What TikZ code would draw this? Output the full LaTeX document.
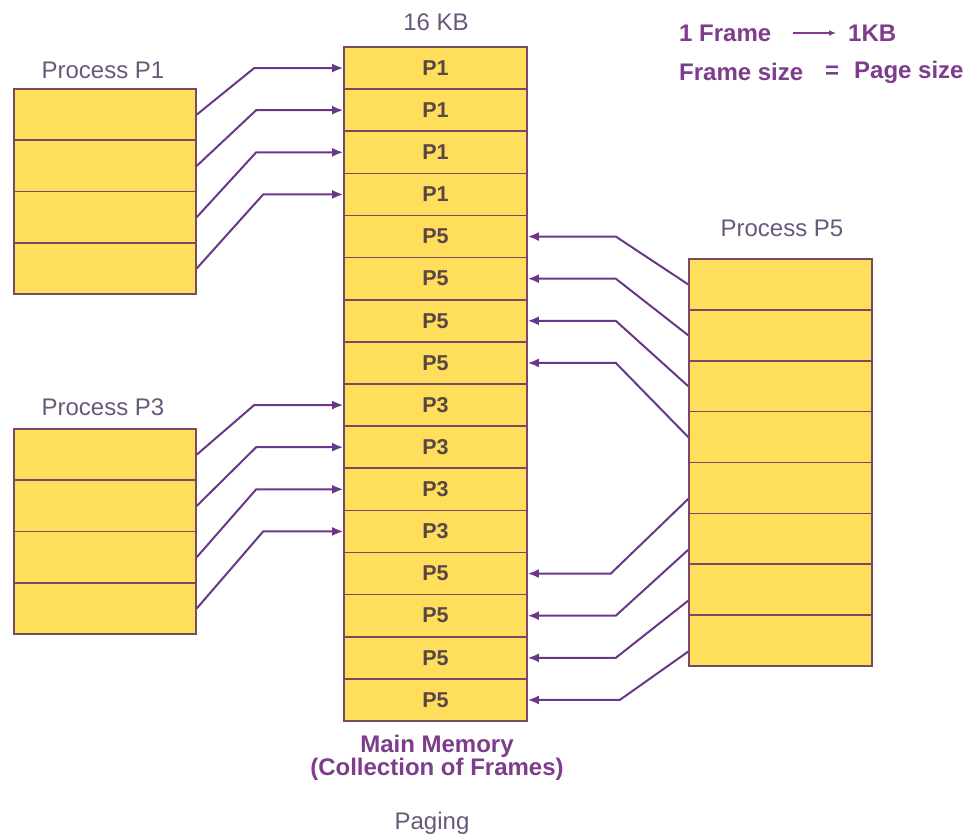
\documentclass[tikz,border=0pt]{standalone}
\usepackage{fontspec}
\setmainfont{Liberation Sans}
\usetikzlibrary{arrows.meta}
\definecolor{cellfill}{RGB}{255,222,92}
\definecolor{cellborder}{RGB}{120,75,100}
\definecolor{arrowc}{RGB}{105,55,135}
\definecolor{labelgray}{RGB}{105,88,122}
\definecolor{memtext}{RGB}{88,70,72}
\definecolor{legendc}{RGB}{125,60,140}
\begin{document}
\begin{tikzpicture}[x=1pt,y=-1pt,
  memcell/.style={draw=cellborder, fill=cellfill, line width=1.6pt,
    minimum width=183pt, minimum height=42.125pt, inner sep=0pt,
    font=\fontsize{21.5}{24}\selectfont\bfseries, text=memtext},
  pcell/.style={draw=cellborder, fill=cellfill, line width=1.6pt,
    minimum width=182pt, minimum height=51.25pt, inner sep=0pt},
  p5cell/.style={pcell, minimum width=183pt, minimum height=50.875pt},
  plabel/.style={font=\fontsize{24}{28}\selectfont, text=labelgray, inner sep=0pt},
  legend/.style={font=\fontsize{24}{28}\selectfont\bfseries, text=legendc, inner sep=0pt, anchor=west},
  conn/.style={draw=arrowc, line width=2pt, -{Latex[length=11pt,width=9pt]}},
  legarrow/.style={draw=legendc, line width=1.2pt, -{Latex[length=7pt,width=6pt]}}
]
\useasboundingbox (0,0) rectangle (969,837);

% main memory frames
\foreach \i/\l in {1/P1,2/P1,3/P1,4/P1,5/P5,6/P5,7/P5,8/P5,9/P3,10/P3,11/P3,12/P3,13/P5,14/P5,15/P5,16/P5}
  \node[memcell] (m\i) at (435.5,{47+42.125*(\i-0.5)}) {\l};

% process P1 pages
\foreach \i in {1,...,4}
  \node[pcell] (a\i) at (105,{89+51.25*(\i-0.5)}) {};
% process P3 pages
\foreach \i in {1,...,4}
  \node[pcell] (c\i) at (105,{429+51.25*(\i-0.5)}) {};
% process P5 pages
\foreach \i in {1,...,8}
  \node[p5cell] (e\i) at (780.5,{259+50.875*(\i-0.5)}) {};

% labels
\node[plabel] (kb16) at (436,22) {16 KB};
\node[plabel] (lp1) at (103,70) {Process P1};
\node[plabel] (lp3) at (103,407) {Process P3};
\node[plabel] (lp5) at (782,228) {Process P5};

\node[font=\fontsize{24}{21}\selectfont\bfseries, text=legendc, align=center, inner sep=0pt] (mm) at (437,758) {Main Memory\\(Collection of Frames)};
\node[plabel] (pg) at (432,823) {Paging};

% legend
\node[legend] (f1) at (679,33) {1 Frame};
\node[legend] (k1) at (848,33) {1KB};
\node[legend] (fs) at (679,72) {Frame size};
\node[legend] (eq) at (825,72) {=};
\node[legend] (ps) at (854,72) {Page size};
\draw[legarrow, shorten <=22pt, shorten >=12pt] (f1.east) -- (k1.west);

% connectors P1/P3 -> memory
\foreach \s/\t/\o in {a1/m1/-89,a2/m2/-87,a3/m3/-87,a4/m4/-80,c1/m9/-89,c2/m10/-87,c3/m11/-87,c4/m12/-80}
  \draw[conn] (\s.east) -- ([xshift=\o pt]\t.west) -- (\t.west);

% connectors P5 -> memory (upper)
\foreach \s/\t in {e1/m5,e2/m6,e3/m7,e4/m8}
  \draw[conn] (\s.west) -- ([xshift=88pt]\t.east) -- (\t.east);

% connectors P5 -> memory (lower)
\foreach \s/\t/\o in {e5/m13/83,e6/m14/88,e7/m15/88,e8/m16/92}
  \draw[conn] ([yshift=-11pt]\s.west) -- ([xshift=\o pt]\t.east) -- (\t.east);
\end{tikzpicture}
\end{document}
